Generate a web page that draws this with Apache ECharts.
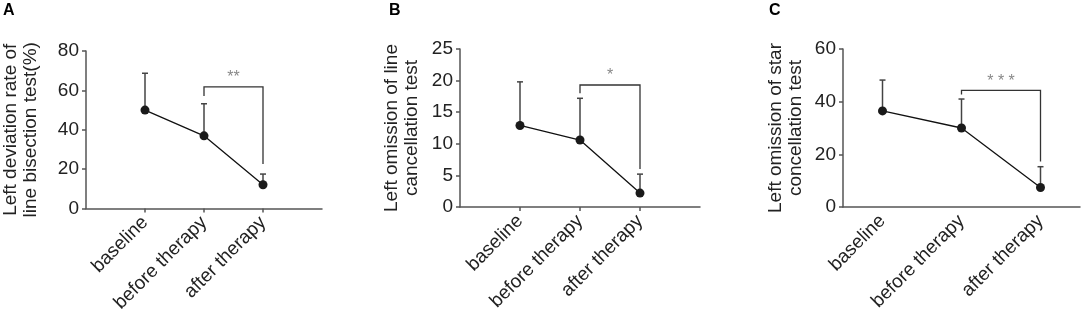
<!DOCTYPE html>
<html>
<head>
<meta charset="utf-8">
<script src="https://cdn.jsdelivr.net/npm/echarts@6/dist/echarts.min.js"></script>
<style>
html,body{margin:0;padding:0;background:#fff;}
#main{width:1084px;height:315px;}
</style>
</head>
<body>
<div id="main"></div>
<script>
// data
var categories = ['baseline', 'before therapy', 'after therapy'];

var aMean = [50, 36.9, 12.1];
var aUpper = [68.7, 53.2, 17.5];
var aBracket = [57.1, 61.8, 22.6];   // left leg end, top, right leg end

var bMean = [12.9, 10.6, 2.2];
var bUpper = [19.8, 17.2, 5.2];
var bBracket = [18.0, 19.3, 6.0];

var cMean = [36.5, 30, 7.4];
var cUpper = [48.2, 41, 15.3];
var cBracket = [42.7, 44.3, 17.3];

var stars = ['**', '*', '* * *'];
var yMax = [80, 25, 60];
var yStep = [20, 5, 20];
var yNames = [
    'Left deviation rate of\nline bisection test(%)',
    'Left omission of line\ncancellation test',
    'Left omission of star\nconcellation test'
];
var letters = ['A', 'B', 'C'];

var FONT = '"Liberation Sans", Arial, sans-serif';

// panel layout
var panels = [
    {grid: {left: 85, top: 51, width: 237, height: 158}, pad: true, gap: 45, mean: aMean, upper: aUpper, br: aBracket, lx: 3},
    {grid: {left: 460, top: 49, width: 240, height: 158}, pad: true, gap: 38, mean: bMean, upper: bUpper, br: bBracket, lx: 389},
    {grid: {left: 843, top: 49, width: 237, height: 158}, pad: false, gap: 37, mean: cMean, upper: cUpper, br: cBracket, lx: 769}
];

var myChart = echarts.init(document.getElementById('main'));

var grids = [], xAxes = [], yAxes = [], series = [], graphics = [];

panels.forEach(function (p, k) {
    grids.push(p.grid);
    var off = p.pad ? 1 : 0;
    var axisData = p.pad ? [''].concat(categories, ['']) : categories.slice();

    xAxes.push({
        type: 'category',
        gridIndex: k,
        data: axisData,
        boundaryGap: !p.pad,
        axisLine: {lineStyle: {color: '#555', width: 1.5}},
        axisTick: {
            length: 4,
            alignWithLabel: true,
            interval: p.pad ? function (i) { return i >= 1 && i <= 3; } : 0,
            lineStyle: {color: '#555', width: 1.5}
        },
        axisLabel: {interval: 0, rotate: 45, margin: 11, fontSize: 19, color: '#222', fontFamily: FONT}
    });

    yAxes.push({
        type: 'value',
        gridIndex: k,
        min: 0,
        max: yMax[k],
        interval: yStep[k],
        name: yNames[k],
        nameLocation: 'middle',
        nameGap: p.gap,
        nameTextStyle: {fontSize: 19, lineHeight: 20, color: '#222', fontFamily: FONT},
        axisLine: {show: true, lineStyle: {color: '#555', width: 1.5}},
        axisTick: {show: true, length: 4, lineStyle: {color: '#555', width: 1.5}},
        splitLine: {show: false},
        axisLabel: {margin: 7, fontSize: 19, color: '#222', fontFamily: FONT}
    });

    // error bars (mean to mean+SD)
    series.push({
        type: 'custom',
        xAxisIndex: k,
        yAxisIndex: k,
        z: 1,
        data: p.mean.map(function (m, i) { return [off + i, m, p.upper[i]]; }),
        renderItem: function (params, api) {
            var x = api.value(0);
            var lo = api.coord([x, api.value(1)]);
            var hi = api.coord([x, api.value(2)]);
            var st = {stroke: '#444', lineWidth: 1.5};
            return {type: 'group', children: [
                {type: 'line', shape: {x1: lo[0], y1: lo[1], x2: hi[0], y2: hi[1]}, style: st},
                {type: 'line', shape: {x1: hi[0] - 3, y1: hi[1], x2: hi[0] + 3, y2: hi[1]}, style: st}
            ]};
        }
    });

    // mean line
    series.push({
        type: 'line',
        xAxisIndex: k,
        yAxisIndex: k,
        z: 3,
        data: p.mean.map(function (m, i) { return [off + i, m]; }),
        symbol: 'circle',
        symbolSize: 9,
        itemStyle: {color: '#1a1a1a'},
        lineStyle: {color: '#111', width: 1.3}
    });

    // significance bracket between before and after therapy
    series.push({
        type: 'custom',
        xAxisIndex: k,
        yAxisIndex: k,
        z: 2,
        data: [[off + 1, off + 2, p.br[0], p.br[1], p.br[2]]],
        encode: {x: [0, 1], y: [2, 3, 4]},
        renderItem: function (params, api) {
            var a = api.coord([api.value(0), api.value(2)]);
            var b = api.coord([api.value(0), api.value(3)]);
            var c = api.coord([api.value(1), api.value(3)]);
            var d = api.coord([api.value(1), api.value(4)]);
            return {type: 'group', children: [
                {type: 'polyline', shape: {points: [a, b, c, d]}, style: {stroke: '#333', lineWidth: 1.3, fill: null}},
                {type: 'text', x: (b[0] + c[0]) / 2, y: b[1] - 1,
                 style: {text: stars[k], fill: '#888', fontSize: 16, fontFamily: FONT, align: 'center', verticalAlign: 'bottom'}}
            ]};
        }
    });

    graphics.push({
        type: 'text', left: p.lx, top: 3,
        style: {text: letters[k], fontSize: 16, fontWeight: 'bold', fill: '#000', fontFamily: FONT}
    });
});

var option = {
    animation: false,
    backgroundColor: '#fff',
    grid: grids,
    xAxis: xAxes,
    yAxis: yAxes,
    series: series,
    graphic: graphics
};
myChart.setOption(option);
</script>
</body>
</html>
